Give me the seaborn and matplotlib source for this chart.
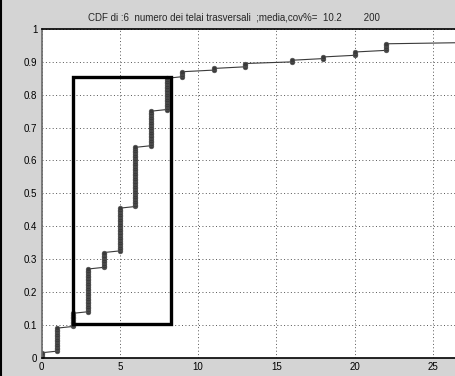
import numpy as np
import pandas as pd
import matplotlib
matplotlib.use("Agg")
import matplotlib.pyplot as plt
import seaborn as sns
from matplotlib.patches import Rectangle

# Data: distinct values of "numero dei telai trasversali" and how many of the
# 200 samples take each value (visible part of the CDF)
values = [0, 1, 2, 3, 4, 5, 6, 7, 8, 9, 11, 13, 16, 18, 20, 22, 29]
counts = [3, 15, 9, 27, 10, 27, 37, 22, 20, 4, 2, 3, 2, 2, 3, 5, 1]
n_total = 200
title_text = "CDF di :6  numero dei telai trasversali  ;media,cov%=  10.2        200"
xticks = [0, 5, 10, 15, 20, 25]
yticks = [0, 0.1, 0.2, 0.3, 0.4, 0.5, 0.6, 0.7, 0.8, 0.9, 1]
ytick_labels = ["0", "0.1", "0.2", "0.3", "0.4", "0.5", "0.6", "0.7", "0.8", "0.9", "1"]
box_x = [2.03, 8.25]
box_y = [0.103, 0.853]

samples = np.repeat(values, counts)
cdf = np.arange(1, len(samples) + 1) / n_total
df = pd.DataFrame({"x": samples, "F": cdf})

sns.set_theme(style="white")
plt.rcParams["font.family"] = ["Liberation Sans", "DejaVu Sans"]

W, H = 456, 376
fig = plt.figure(figsize=(W / 100, H / 100), dpi=100, facecolor="#d4d4d4")
left, bottom, top = 41.5 / W, (H - 357.7) / H, (H - 29.0) / H
ax = fig.add_axes([left, bottom, 1.0 - left, top - bottom])
ax.set_facecolor("white")

sns.lineplot(data=df, x="x", y="F", estimator=None, sort=False, ax=ax,
             color="#3a3a3a", linewidth=0.8, marker="o", markersize=3.4,
             markeredgewidth=0.4, markeredgecolor="#555555",
             markerfacecolor="#3a3a3a", clip_on=True)

ax.add_patch(Rectangle((box_x[0], box_y[0]), box_x[1] - box_x[0], box_y[1] - box_y[0],
                       fill=False, edgecolor="black", linewidth=2.4, zorder=5))

ax.set_xlim(0, (W - 41.5) / 15.66)
ax.set_ylim(0, 1)
ax.set_xticks(xticks)
ax.set_xticklabels([str(t) for t in xticks])
ax.set_yticks(yticks)
ax.set_yticklabels(ytick_labels)
ax.grid(True, linestyle=(0, (1, 2.5)), color="#555555", linewidth=0.7)
ax.tick_params(axis="both", direction="in", length=3, labelsize=7, colors="black",
               pad=3)
ax.set_xlabel("")
ax.set_ylabel("")
for s in ["top", "bottom"]:
    ax.spines[s].set_color("black")
    ax.spines[s].set_linewidth(1.2)
ax.spines["left"].set_color("#6a6a6a")
ax.spines["left"].set_linewidth(1.2)
ax.spines["right"].set_visible(False)

fig.text(234 / W, 1 - 18 / H, title_text, ha="center", va="center", fontsize=7)

# left dark border of the window
fig.add_artist(plt.Line2D([1 / W, 1 / W], [0, 1], color="black", linewidth=1.5,
                          transform=fig.transFigure))

fig.savefig("out.png", dpi=100, facecolor=fig.get_facecolor())
